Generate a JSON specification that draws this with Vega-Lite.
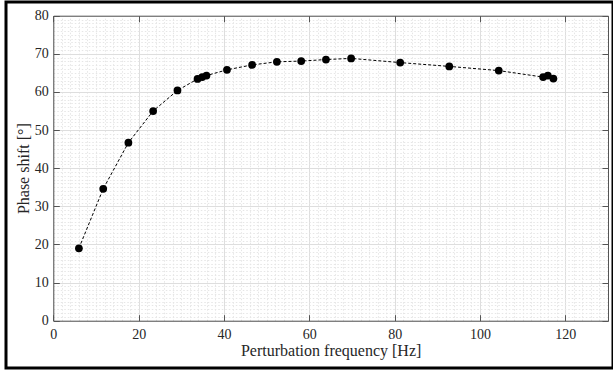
{
  "$schema": "https://vega.github.io/schema/vega-lite/v6.json",
  "width": 607,
  "height": 366,
  "autosize": {"type": "none"},
  "padding": {"left": 6, "top": 2, "right": 0, "bottom": 8},
  "background": "white",
  "config": {
    "font": "Liberation Serif, Times New Roman, serif",
    "view": {"stroke": "black", "strokeWidth": 3},
    "axis": {
      "labelFont": "Liberation Serif, Times New Roman, serif",
      "titleFont": "Liberation Serif, Times New Roman, serif",
      "labelFontSize": 14,
      "titleFontSize": 16,
      "titleFontWeight": "normal",
      "labelColor": "#262626",
      "titleColor": "#262626",
      "domainColor": "#555555",
      "domainWidth": 1,
      "tickColor": "#555555",
      "tickWidth": 1,
      "labelFlush": false,
      "labelOverlap": false
    }
  },
  "data": {
    "values": [
      {"f": 6.0, "p": 19.0},
      {"f": 11.7, "p": 34.6},
      {"f": 17.6, "p": 46.7},
      {"f": 23.4, "p": 55.0},
      {"f": 29.1, "p": 60.4},
      {"f": 33.8, "p": 63.4},
      {"f": 34.9, "p": 63.9},
      {"f": 35.9, "p": 64.3},
      {"f": 40.7, "p": 65.8},
      {"f": 46.6, "p": 67.1},
      {"f": 52.4, "p": 67.9},
      {"f": 58.1, "p": 68.1},
      {"f": 63.9, "p": 68.5},
      {"f": 69.8, "p": 68.8},
      {"f": 81.3, "p": 67.7},
      {"f": 92.8, "p": 66.7},
      {"f": 104.4, "p": 65.6},
      {"f": 114.8, "p": 63.9},
      {"f": 115.9, "p": 64.3},
      {"f": 117.2, "p": 63.5}
    ]
  },
  "layer": [
    {
      "mark": {"type": "line", "color": "black", "strokeDash": [3, 2], "strokeWidth": 1},
      "encoding": {
        "x": {
          "field": "f", "type": "quantitative",
          "scale": {"domain": [0, 130], "range": [47.3, 602], "nice": false, "zero": false},
          "axis": {
            "orient": "top", "offset": -13.7,
            "values": [0,2,4,6,8,10,12,14,16,18,20,22,24,26,28,30,32,34,36,38,40,42,44,46,48,50,52,54,56,58,60,62,64,66,68,70,72,74,76,78,80,82,84,86,88,90,92,94,96,98,100,102,104,106,108,110,112,114,116,118,120,122,124,126,128,130],
            "grid": true,
            "gridColor": {"condition": {"test": "datum.value % 20 === 0", "value": "#dedede"}, "value": "#e6e6e6"},
            "gridDash": {"condition": {"test": "datum.value % 20 === 0", "value": []}, "value": [1.5, 2]},
            "gridWidth": 1,
            "labels": false,
            "ticks": true,
            "tickSize": -6,
            "tickOpacity": {"condition": {"test": "datum.value % 20 === 0", "value": 1}, "value": 0},
            "domain": true,
            "title": null
          }
        },
        "y": {
          "field": "p", "type": "quantitative",
          "scale": {"domain": [0, 80], "range": [318.7, 13.7], "nice": false, "zero": false},
          "axis": {
            "orient": "left", "offset": -47.3,
            "values": [0,1,2,3,4,5,6,7,8,9,10,11,12,13,14,15,16,17,18,19,20,21,22,23,24,25,26,27,28,29,30,31,32,33,34,35,36,37,38,39,40,41,42,43,44,45,46,47,48,49,50,51,52,53,54,55,56,57,58,59,60,61,62,63,64,65,66,67,68,69,70,71,72,73,74,75,76,77,78,79,80],
            "grid": true,
            "gridColor": {"condition": {"test": "datum.value % 10 === 0", "value": "#dedede"}, "value": "#e6e6e6"},
            "gridDash": {"condition": {"test": "datum.value % 10 === 0", "value": []}, "value": [1.5, 2]},
            "gridWidth": 1,
            "ticks": true,
            "tickSize": -6,
            "tickOpacity": {"condition": {"test": "datum.value % 10 === 0", "value": 1}, "value": 0},
            "labelExpr": "datum.value % 10 === 0 ? datum.label : ''",
            "labelFont": "Liberation Serif",
            "titleFont": "Liberation Serif",
            "labelPadding": 11,
            "domain": true,
            "title": "Phase shift [°]",
            "titlePadding": 3
          }
        }
      }
    },
    {
      "mark": {"type": "point", "filled": true, "color": "black", "size": 60, "opacity": 1},
      "encoding": {
        "x": {
          "field": "f", "type": "quantitative",
          "scale": {"domain": [0, 130], "range": [47.3, 602], "nice": false, "zero": false},
          "axis": {
            "orient": "bottom", "offset": -47.3,
            "values": [0, 20, 40, 60, 80, 100, 120],
            "grid": false,
            "tickSize": -6,
            "labelPadding": 13,
            "labelFont": "Liberation Serif",
            "titleFont": "Liberation Serif",
            "domain": true,
            "title": "Perturbation frequency [Hz]",
            "titlePadding": 1
          }
        },
        "y": {
          "field": "p", "type": "quantitative",
          "scale": {"domain": [0, 80], "range": [318.7, 13.7], "nice": false, "zero": false},
          "axis": {
            "orient": "right", "offset": -5,
            "values": [0, 10, 20, 30, 40, 50, 60, 70, 80],
            "grid": false,
            "labels": false,
            "tickSize": -6,
            "domain": true,
            "title": null
          }
        }
      }
    }
  ],
  "resolve": {"axis": {"x": "independent", "y": "independent"}}
}
